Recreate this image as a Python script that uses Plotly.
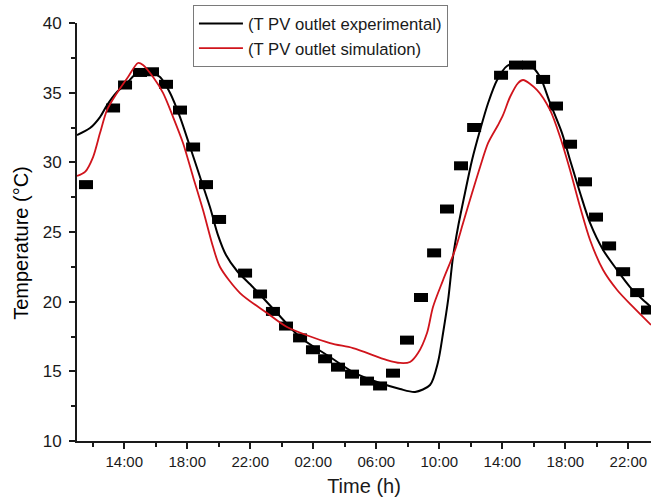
import plotly.graph_objects as go

# Time axis in hours counted from midnight of day 1 (24 h + x = next day)
# Measured PV outlet temperature (square markers)
meas_time = [11.57, 13.29, 14.05, 15.00, 15.76, 16.65, 17.54, 18.37, 19.19, 20.02,
             21.67, 22.62, 23.44, 24.27, 25.16, 25.98, 26.75, 27.57, 28.46, 29.41,
             30.24, 31.06, 31.95, 32.84, 33.67, 34.49, 35.38, 36.21, 37.92, 38.87,
             39.70, 40.59, 41.41, 42.30, 43.25, 43.95, 44.78, 45.67, 46.56, 47.25]
meas_temp = [28.4, 33.9, 35.55, 36.45, 36.5, 35.6, 33.75, 31.1, 28.4, 25.9,
             22.05, 20.55, 19.3, 18.25, 17.4, 16.55, 15.9, 15.3, 14.8, 14.3,
             13.95, 14.87, 17.24, 20.3, 23.5, 26.65, 29.75, 32.5, 36.25, 36.98,
             36.98, 35.95, 34.04, 31.3, 28.6, 26.07, 24.0, 22.15, 20.65, 19.4]

# Experimental curve
exp_time = [11.0, 11.83, 12.46, 12.91, 13.54, 14.18, 14.81, 15.64, 16.27, 16.91,
            17.54, 18.18, 18.81, 19.44, 19.95, 20.46, 21.16, 22.16, 23.70, 25.14,
            27.06, 28.52, 30.24, 31.51, 32.46, 33.41, 33.92, 34.24, 34.56, 34.87,
            35.19, 35.63, 36.08, 36.59, 37.10, 37.67, 38.30, 39.13, 39.76, 40.40,
            41.03, 41.79, 42.30, 42.94, 43.57, 44.40, 45.29, 46.11, 46.94, 47.44]
exp_temp = [31.96, 32.46, 33.25, 34.11, 35.05, 35.69, 36.41, 36.48, 36.12, 34.98,
            33.25, 31.10, 28.95, 26.79, 24.78, 23.35, 22.20, 21.05, 19.19, 17.47,
            16.03, 14.95, 14.16, 13.73, 13.52, 14.02, 15.67, 17.75, 20.12, 23.21,
            25.36, 27.80, 30.17, 32.32, 34.26, 35.91, 36.91, 37.20, 36.99, 36.12,
            34.26, 32.10, 30.17, 27.80, 25.65, 23.71, 22.27, 21.05, 20.12, 19.62]

# Simulated curve
sim_time = [11.0, 11.51, 12.02, 12.46, 12.91, 13.54, 14.24, 14.87, 15.19, 15.83,
            16.46, 17.10, 17.73, 18.37, 19.00, 19.64, 20.08, 21.35, 23.06, 24.33,
            27.06, 28.52, 30.68, 31.51, 32.14, 32.65, 33.22, 33.60, 34.24, 35.00,
            35.51, 36.08, 36.59, 37.10, 37.73, 38.05, 38.49, 39.00, 39.32, 40.21,
            41.03, 41.67, 42.30, 42.94, 43.57, 44.40, 45.29, 46.30, 47.44]
sim_temp = [29.02, 29.31, 30.38, 32.10, 33.76, 34.98, 36.12, 37.13, 36.99, 36.12,
            34.98, 33.25, 31.39, 28.95, 26.58, 23.92, 22.49, 20.62, 19.19, 18.18,
            17.03, 16.67, 15.81, 15.60, 15.67, 16.31, 17.75, 19.62, 21.55, 23.71,
            25.65, 27.80, 29.67, 31.39, 32.68, 33.40, 34.69, 35.69, 35.91, 35.19,
            33.76, 31.82, 29.45, 26.79, 24.43, 22.27, 20.84, 19.62, 18.33]

x_tick_vals = [14, 18, 22, 26, 30, 34, 38, 42, 46]
x_tick_text = ["14:00", "18:00", "22:00", "02:00", "06:00", "10:00", "14:00", "18:00", "22:00"]
x_minor_vals = [12, 16, 20, 24, 28, 32, 36, 40, 44]
y_tick_vals = [10, 15, 20, 25, 30, 35, 40]

FONT = "Arial, Liberation Sans, sans-serif"
INK = "#1a1a1a"

fig = go.Figure()

fig.add_trace(go.Scatter(
    x=meas_time, y=meas_temp, mode="markers", showlegend=False,
    marker=dict(symbol="line-ew", size=10, color="black",
                line=dict(color="black", width=9)),
    hoverinfo="x+y",
))

fig.add_trace(go.Scatter(
    x=exp_time, y=exp_temp, mode="lines", name="(T PV outlet experimental)",
    line=dict(color="black", width=2, shape="spline", smoothing=0.8),
))

fig.add_trace(go.Scatter(
    x=sim_time, y=sim_temp, mode="lines", name="(T PV outlet simulation)",
    line=dict(color="#d0141c", width=1.8, shape="spline", smoothing=0.8),
))

fig.update_layout(
    width=651, height=502,
    margin=dict(l=77, r=0, t=23, b=61),
    plot_bgcolor="white", paper_bgcolor="white",
    font=dict(family=FONT, color=INK, size=15),
    legend=dict(
        x=0.202, y=1.043, xanchor="left", yanchor="top",
        bordercolor="#7a7a7a", borderwidth=1, bgcolor="white",
        font=dict(size=16.7, family=FONT, color=INK),
        tracegroupgap=0, itemwidth=44,
    ),
    annotations=[dict(
        text="Temperature (°C)", textangle=-90,
        xref="paper", yref="paper", x=-0.0976, y=0.474,
        xanchor="center", yanchor="middle", showarrow=False,
        font=dict(size=20, family=FONT, color="#000000"),
    )],
)

fig.update_xaxes(
    range=[11, 47.44], showgrid=False, zeroline=False,
    showline=True, linecolor=INK, linewidth=2,
    tickmode="array", tickvals=x_tick_vals, ticktext=x_tick_text,
    ticks="outside", ticklen=6, tickwidth=2, tickcolor=INK,
    tickfont=dict(size=15, family=FONT, color=INK),
    minor=dict(tickmode="array", tickvals=x_minor_vals, ticks="outside",
               ticklen=4, tickwidth=2, tickcolor=INK),
    title=dict(text="Time (h)", font=dict(size=20, family=FONT, color=INK), standoff=10),
)

fig.update_yaxes(
    range=[10, 40], showgrid=False, zeroline=False,
    showline=True, linecolor=INK, linewidth=2,
    tickmode="array", tickvals=y_tick_vals,
    ticks="outside", ticklen=6, tickwidth=2, tickcolor=INK,
    tickfont=dict(size=17, family=FONT, color=INK), ticklabelstandoff=4,
    minor=dict(dtick=2.5, tick0=10, ticks="outside", ticklen=4, tickwidth=2, tickcolor=INK),
)

fig.write_html("out.html")
